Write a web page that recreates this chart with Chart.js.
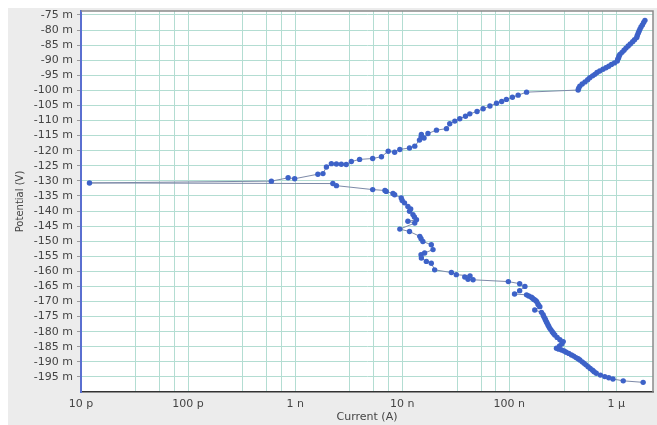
<!DOCTYPE html>
<html>
<head>
<meta charset="utf-8">
<script src="https://cdn.jsdelivr.net/npm/chart.js@4"></script>
<style>
  html, body { margin: 0; padding: 0; background: #ffffff; }
  #wrap { width: 657px; height: 425px; }
</style>
</head>
<body>
<div id="wrap"><canvas id="myChart" width="657" height="425"></canvas></div>
<script>
// Current (A), in scan order (bottom right -> top right)
const currentA = [
  // cathodic branch
  1.78e-6, 1.16e-6, 9.3e-7, 8.5e-7, 7.8e-7, 7.1e-7, 6.5e-7, 6.2e-7, 6.0e-7, 5.7e-7,
  5.45e-7, 5.2e-7, 5.0e-7, 4.8e-7, 4.56e-7, 4.4e-7, 4.2e-7, 4.0e-7, 3.81e-7, 3.6e-7,
  3.4e-7, 3.25e-7, 3.08e-7, 2.9e-7, 2.76e-7, 2.95e-7, 3.1e-7, 3.19e-7, 2.97e-7, 2.8e-7,
  2.66e-7, 2.58e-7, 2.52e-7, 2.45e-7, 2.39e-7, 2.34e-7, 2.3e-7, 2.26e-7, 2.22e-7, 2.18e-7,
  2.15e-7, 2.1e-7, 2.07e-7, 2.0e-7, 1.73e-7, 1.93e-7, 1.88e-7, 1.85e-7, 1.8e-7, 1.75e-7,
  1.7e-7, 1.65e-7, 1.61e-7, 1.52e-7, 1.45e-7, 1.12e-7, 1.25e-7, 1.4e-7, 1.25e-7, 9.8e-8,
  4.59e-8, 4.12e-8, 3.84e-8, 4.3e-8, 3.2e-8, 2.88e-8, 2.01e-8, 1.87e-8, 1.68e-8, 1.51e-8,
  1.5e-8, 1.62e-8, 1.94e-8, 1.87e-8, 1.56e-8, 1.5e-8, 1.46e-8, 1.17e-8, 9.5e-9, 1.31e-8,
  1.13e-8, 1.36e-8, 1.3e-8, 1.26e-8, 1.17e-8, 1.2e-8, 1.13e-8, 1.05e-8, 1.0e-8, 9.8e-9,
  8.5e-9, 8.2e-9, 7.1e-9, 6.9e-9, 5.3e-9, 2.43e-9, 2.25e-9,
  // lowest current
  1.2e-11,
  // anodic branch
  6.0e-10, 8.6e-10, 9.9e-10, 1.63e-9, 1.82e-9, 1.96e-9, 2.18e-9, 2.43e-9, 2.7e-9, 3.0e-9,
  3.35e-9, 4.0e-9, 5.3e-9, 6.4e-9, 7.4e-9, 8.5e-9, 9.5e-9, 1.17e-8, 1.31e-8, 1.45e-8,
  1.5e-8, 1.51e-8, 1.6e-8, 1.74e-8, 2.09e-8, 2.59e-8, 2.78e-8, 3.1e-8, 3.45e-8, 3.9e-8,
  4.28e-8, 5.0e-8, 5.7e-8, 6.6e-8, 7.6e-8, 8.5e-8, 9.4e-8, 1.07e-7, 1.21e-7, 1.45e-7,
  4.4e-7, 4.45e-7, 4.56e-7, 4.8e-7, 5.1e-7, 5.4e-7, 5.65e-7, 6.0e-7, 6.3e-7, 6.6e-7,
  7.0e-7, 7.5e-7, 8.0e-7, 8.5e-7, 9.0e-7, 9.6e-7, 1.02e-6, 1.03e-6, 1.05e-6, 1.06e-6,
  1.08e-6, 1.13e-6, 1.18e-6, 1.23e-6, 1.29e-6, 1.35e-6, 1.42e-6, 1.48e-6, 1.55e-6, 1.57e-6,
  1.6e-6, 1.63e-6, 1.66e-6, 1.7e-6, 1.75e-6, 1.8e-6, 1.85e-6
];
// Potential in millivolts, same order
const potentialMilliV = [
  -196.8, -196.3, -195.7, -195.3, -194.9, -194.4, -193.8, -193.3, -192.8, -192.2,
  -191.6, -191.0, -190.5, -190.0, -189.4, -189.0, -188.6, -188.1, -187.7, -187.2,
  -186.8, -186.4, -186.1, -185.8, -185.5, -184.7, -184.0, -183.3, -182.7, -181.9,
  -181.1, -180.5, -180.0, -179.4, -178.9, -178.3, -177.8, -177.2, -176.7, -176.1,
  -175.6, -175.0, -174.4, -173.6, -172.8, -171.7, -171.2, -170.8, -170.0, -169.6,
  -169.3, -168.9, -168.6, -168.2, -167.8, -167.5, -166.4, -165.0, -164.1, -163.4,
  -162.8, -162.6, -161.9, -161.5, -161.1, -160.4, -159.5, -157.3, -156.7, -155.6,
  -154.5, -153.9, -152.8, -151.2, -150.1, -149.2, -148.4, -146.8, -146.0, -144.0,
  -143.4, -142.9, -142.0, -141.2, -140.1, -139.3, -138.5, -137.3, -136.5, -135.7,
  -134.6, -134.2, -133.5, -133.2, -132.9, -131.6, -130.9,
  -130.7,
  -130.1, -129.0, -129.3, -127.8, -127.6, -125.4, -124.3, -124.4, -124.5, -124.6,
  -123.6, -122.9, -122.6, -122.0, -120.2, -120.5, -119.6, -119.1, -118.5, -116.5,
  -115.5, -114.6, -115.8, -114.3, -113.2, -112.7, -111.1, -110.2, -109.4, -108.6,
  -107.8, -107.0, -106.1, -105.2, -104.3, -103.7, -103.0, -102.3, -101.6, -100.6,
  -99.9, -99.3, -98.6, -97.9, -97.2, -96.5, -95.8, -95.2, -94.7, -94.1,
  -93.6, -93.0, -92.5, -92.0, -91.4, -90.9, -90.3, -89.7, -89.2, -88.6,
  -88.1, -87.4, -86.7, -86.0, -85.3, -84.6, -83.9, -83.2, -82.5, -81.8,
  -81.1, -80.4, -79.75, -79.0, -78.3, -77.5, -76.8
];

// axis ticks
const xMajorTicks = [1e-11, 1e-10, 1e-9, 1e-8, 1e-7, 1e-6];
const xTickLabels = ["10 p", "100 p", "1 n", "10 n", "100 n", "1 µ"];
const xMinorSteps = [3.25, 5.45, 7.5];
const yTicks = [-195, -190, -185, -180, -175, -170, -165, -160, -155, -150, -145, -140,
  -135, -130, -125, -120, -115, -110, -105, -100, -95, -90, -85, -80, -75];

const points = currentA.map((c, i) => ({ x: c, y: potentialMilliV[i] }));

const gridColor = "#b3ddd2";
const tickFont = { family: "DejaVu Sans", size: 11 };

// grey panel, white plot area, top/right frame
const plotFrame = {
  id: "plotFrame",
  beforeDraw(chart) {
    const a = chart.chartArea, ctx = chart.ctx;
    ctx.save();
    ctx.fillStyle = "#ececec";
    ctx.fillRect(8, 8, chart.width - 8, chart.height - 8);
    ctx.fillStyle = "#ffffff";
    ctx.fillRect(a.left, a.top, a.right - a.left, a.bottom - a.top);
    ctx.restore();
  },
  afterDraw(chart) {
    const a = chart.chartArea, ctx = chart.ctx;
    ctx.save();
    ctx.strokeStyle = "#8a8a8a";
    ctx.lineWidth = 1.5;
    ctx.beginPath();
    ctx.moveTo(a.left, a.top);
    ctx.lineTo(a.right, a.top);
    ctx.lineTo(a.right, a.bottom);
    ctx.stroke();
    ctx.restore();
  }
};

const context = document.getElementById("myChart");
const myChart = new Chart(context, {
  type: "scatter",
  data: {
    datasets: [{
      label: "Potential",
      data: points,
      showLine: true,
      borderColor: "#7d8aa8",
      borderWidth: 1,
      pointRadius: 2.7,
      pointBackgroundColor: "#3d62c8",
      pointBorderColor: "#3d62c8",
      pointBorderWidth: 0
    }]
  },
  options: {
    responsive: false,
    animation: false,
    layout: { padding: { top: 11, right: 4, left: 0, bottom: 0 } },
    plugins: { legend: { display: false }, tooltip: { enabled: false } },
    scales: {
      x: {
        type: "logarithmic",
        min: 1e-11,
        max: 2.2e-6,
        afterBuildTicks(scale) {
          const t = [];
          xMajorTicks.forEach(v => {
            t.push({ value: v });
            xMinorSteps.forEach(m => { if (v * m <= scale.max) t.push({ value: v * m }); });
          });
          scale.ticks = t;
        },
        afterFit(scale) { scale.height = 33; },
        ticks: {
          autoSkip: false,
          maxRotation: 0,
          padding: 6,
          color: "#444",
          font: tickFont,
          callback(value) {
            const i = xMajorTicks.findIndex(v => Math.abs(v - value) / v < 1e-6);
            return i >= 0 ? xTickLabels[i] : "";
          }
        },
        grid: { color: gridColor, lineWidth: 1, drawTicks: false },
        border: { color: "#333", width: 1.5 },
        title: {
          display: true,
          text: "Current (A)",
          color: "#444",
          font: tickFont,
          padding: { top: 0, bottom: 1 }
        }
      },
      y: {
        min: -200,
        max: -73.7,
        afterBuildTicks(scale) { scale.ticks = yTicks.map(v => ({ value: v })); },
        afterFit(scale) { scale.width = 81; },
        ticks: {
          autoSkip: false,
          padding: 4,
          color: "#444",
          font: tickFont,
          callback: v => v + " m"
        },
        grid: { color: gridColor, lineWidth: 1, drawTicks: true, tickLength: 4, tickColor: "#9a9a9a" },
        border: { color: "#5a6fd0", width: 2 },
        title: {
          display: true,
          text: "Potential (V)",
          color: "#444",
          font: { family: "DejaVu Sans", size: 10 },
          padding: { top: 14, bottom: 0 }
        }
      }
    }
  },
  plugins: [plotFrame]
});
</script>
</body>
</html>
